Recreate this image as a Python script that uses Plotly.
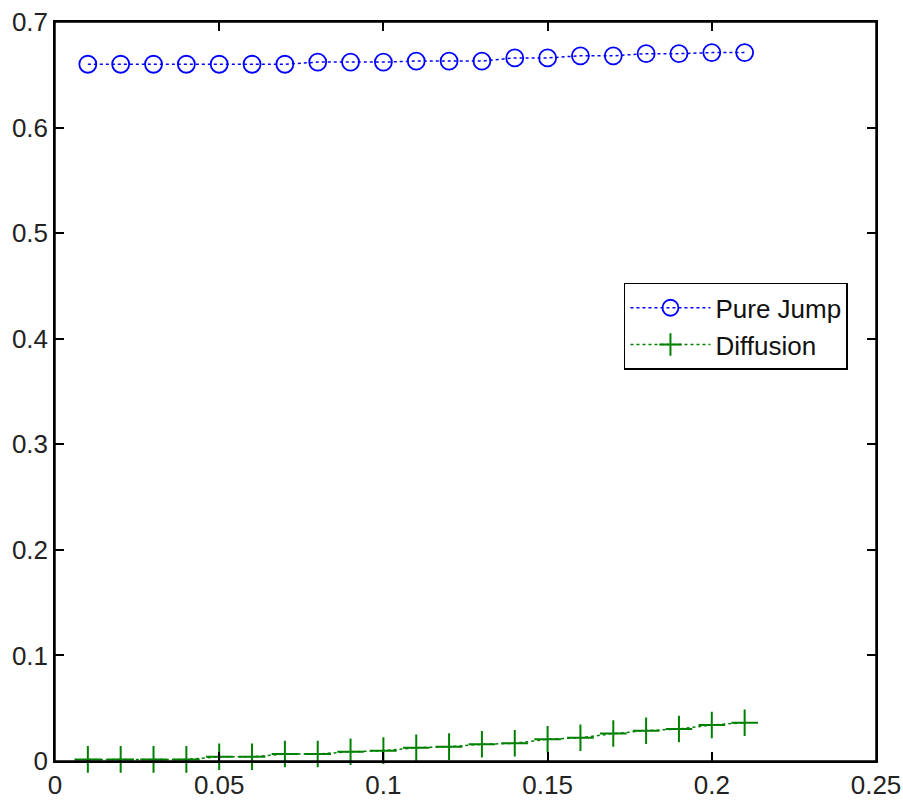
import plotly.graph_objects as go

x_vals = [0.01, 0.02, 0.03, 0.04, 0.05, 0.06, 0.07, 0.08, 0.09, 0.10, 0.11,
          0.12, 0.13, 0.14, 0.15, 0.16, 0.17, 0.18, 0.19, 0.20, 0.21]
pure_jump = [0.660, 0.660, 0.660, 0.660, 0.660, 0.660, 0.660, 0.662, 0.662, 0.662, 0.663,
             0.663, 0.663, 0.666, 0.666, 0.668, 0.668, 0.670, 0.670, 0.671, 0.671]
diffusion = [0.0015, 0.0015, 0.0015, 0.0015, 0.004, 0.004, 0.0066, 0.0066, 0.0088, 0.0098, 0.0126,
             0.0136, 0.0158, 0.0168, 0.0206, 0.022, 0.026, 0.0287, 0.0303, 0.0341, 0.0363]
series_names = ["Pure Jump", "Diffusion"]
x_ticks = [0, 0.05, 0.1, 0.15, 0.2, 0.25]
x_tick_labels = ["0", "0.05", "0.1", "0.15", "0.2", "0.25"]
y_ticks = [0, 0.1, 0.2, 0.3, 0.4, 0.5, 0.6, 0.7]
y_tick_labels = ["0", "0.1", "0.2", "0.3", "0.4", "0.5", "0.6", "0.7"]

FONT = "Liberation Sans Narrow, Arial Narrow, Liberation Sans, Arial, sans-serif"

fig = go.Figure()
fig.add_trace(go.Scatter(
    x=x_vals, y=pure_jump, name=series_names[0], mode="lines+markers",
    line=dict(color="#0000FF", width=1.5, dash="dot"),
    marker=dict(symbol="circle-open", size=17, color="#0000FF", line=dict(width=1.8, color="#0000FF")),
    cliponaxis=False,
))
fig.add_trace(go.Scatter(
    x=x_vals, y=diffusion, name=series_names[1], mode="lines+markers",
    line=dict(color="#008000", width=1.5, dash="dot"),
    marker=dict(symbol="cross-thin-open", size=19, color="#008000", line=dict(width=2, color="#008000")),
    cliponaxis=False,
))

axis_common = dict(
    showline=True, linecolor="black", linewidth=1.5, mirror="ticks",
    ticks="inside", ticklen=9, tickwidth=1.5, tickcolor="black",
    showgrid=False, zeroline=False, automargin=False,
    ticklabeloverflow="allow",
    tickfont=dict(family=FONT, size=26, color="#222222"),
)

fig.update_layout(
    width=903, height=802,
    margin=dict(l=55, r=27, t=22, b=41),
    paper_bgcolor="white", plot_bgcolor="white",
    xaxis=dict(range=[0, 0.25], tickvals=x_ticks, ticktext=x_tick_labels, **axis_common),
    yaxis=dict(range=[0, 0.7], tickvals=y_ticks, ticktext=y_tick_labels, **axis_common),
    legend=dict(
        x=0.693, y=0.647, xanchor="left", yanchor="top",
        bgcolor="white", bordercolor="black", borderwidth=1.5,
        font=dict(family=FONT, size=26, color="#111111"),
        itemwidth=80, tracegroupgap=0,
    ),
    showlegend=True,
)
fig.add_shape(type="rect", xref="paper", yref="paper", x0=0, x1=1, y0=0, y1=1,
              line=dict(color="black", width=1.5), layer="above")

fig.write_html("out.html",
               config={"displayModeBar": False},
               post_script="document.body.style.margin='0';document.body.style.overflow='hidden';")
